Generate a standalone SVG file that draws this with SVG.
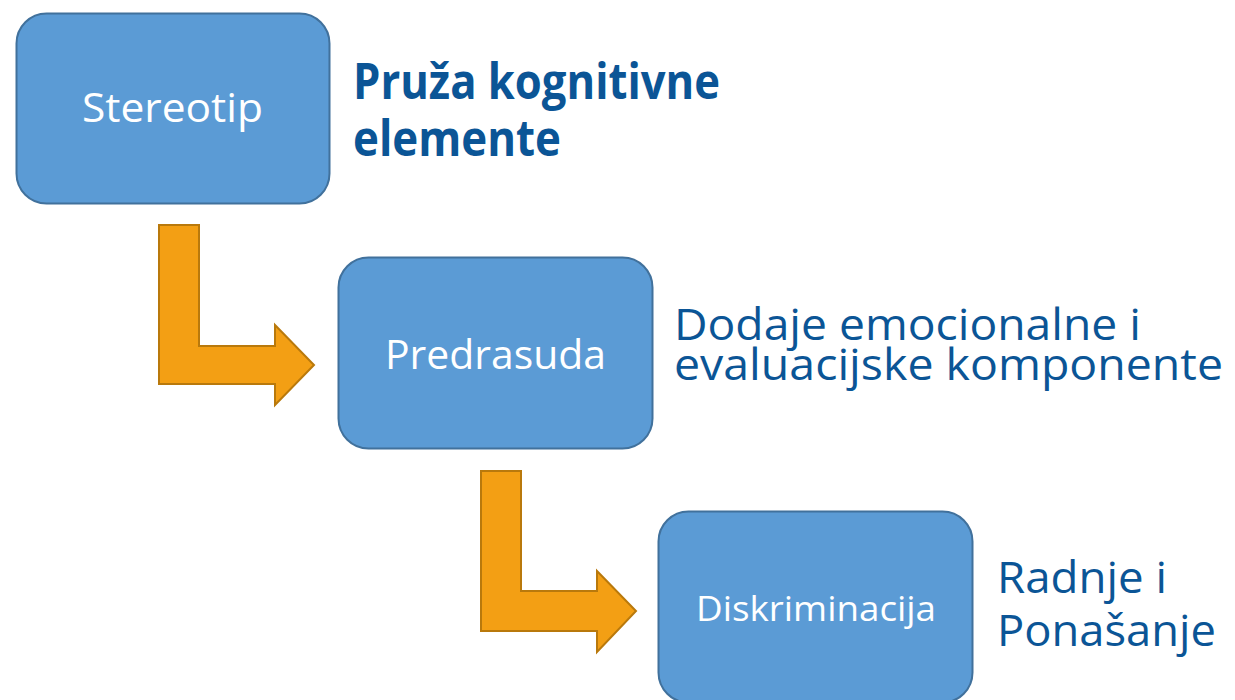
<svg xmlns="http://www.w3.org/2000/svg" width="1235" height="700" viewBox="0 0 1235 700">
<style>
.box{fill:#5B9BD5;stroke:#41719C;stroke-width:2}
.arr{fill:#F39F14;stroke:#B9790C;stroke-width:2;stroke-linejoin:miter}
.bt{fill:#FFFFFF;font-family:"Open Sans","Noto Sans",sans-serif}
.lt{fill:#0B5596;font-family:"Open Sans","Noto Sans",sans-serif}
</style>
<rect width="1235" height="700" fill="#FFFFFF"/>
<g id="connectors">
<path class="arr" d="M159,225 L199,225 L199,346 L275,346 L275,325 L314,365 L275,405 L275,384 L159,384 Z"/>
<path class="arr" d="M481,471 L521,471 L521,591 L597,591 L597,571 L636,611 L597,652 L597,631 L481,631 Z"/>
</g>
<g id="node-stereotip">
<rect class="box" x="16.5" y="13.5" width="313" height="190" rx="30"/>
<text class="bt" x="82" y="122" font-size="40" textLength="181" lengthAdjust="spacingAndGlyphs">Stereotip</text>
</g>
<g id="label-stereotip">
<text class="lt" x="353" y="99" font-size="50" font-weight="bold" textLength="367" lengthAdjust="spacingAndGlyphs">Pruža kognitivne</text>
<text class="lt" x="353" y="156" font-size="50" font-weight="bold" textLength="208" lengthAdjust="spacingAndGlyphs">elemente</text>
</g>
<g id="node-predrasuda">
<rect class="box" x="338.5" y="257.5" width="314" height="191" rx="30"/>
<text class="bt" x="385" y="369" font-size="40" textLength="221" lengthAdjust="spacingAndGlyphs">Predrasuda</text>
</g>
<g id="label-predrasuda">
<text class="lt" x="674" y="340" font-size="43" textLength="467" lengthAdjust="spacingAndGlyphs">Dodaje emocionalne i</text>
<text class="lt" x="674" y="380" font-size="43" textLength="549" lengthAdjust="spacingAndGlyphs">evaluacijske komponente</text>
</g>
<g id="node-diskriminacija">
<rect class="box" x="658.5" y="511.5" width="314" height="191" rx="30"/>
<text class="bt" x="696" y="621" font-size="35" textLength="240" lengthAdjust="spacingAndGlyphs">Diskriminacija</text>
</g>
<g id="label-diskriminacija">
<text class="lt" x="997" y="593" font-size="43" textLength="170" lengthAdjust="spacingAndGlyphs">Radnje i</text>
<text class="lt" x="997" y="646" font-size="43" textLength="219" lengthAdjust="spacingAndGlyphs">Ponašanje</text>
</g>
</svg>
